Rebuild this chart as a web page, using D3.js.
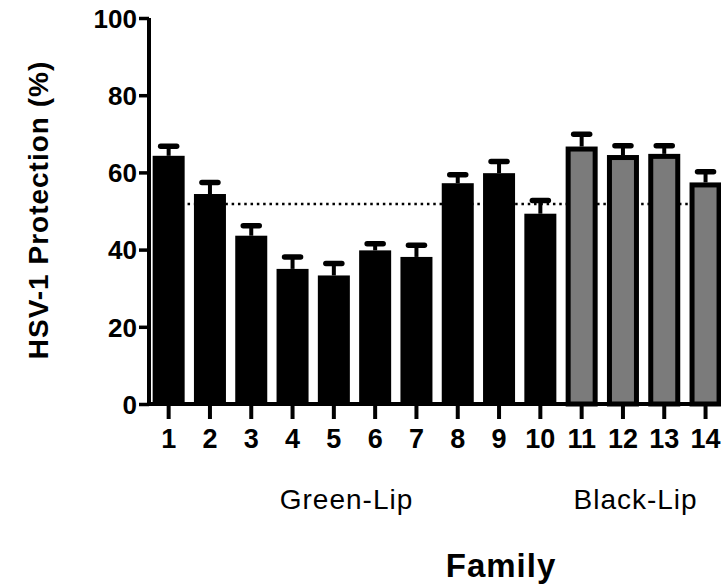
<!DOCTYPE html>
<html>
<head>
<meta charset="utf-8">
<script src="https://cdn.jsdelivr.net/npm/d3@7"></script>
<style>
  html, body { margin: 0; padding: 0; background: #fff; }
  svg { display: block; }
  text { font-family: "Liberation Sans", Arial, Helvetica, sans-serif; fill: #000; }
</style>
</head>
<body>
<svg id="chart" width="721" height="587"></svg>
<script>
// ---- data ----
const categories = ["1","2","3","4","5","6","7","8","9","10","11","12","13","14"];
const means = [64.3, 54.4, 43.6, 35.0, 33.3, 39.8, 38.1, 57.2, 59.8, 49.3, 66.7, 64.5, 64.8, 57.4];
const sems  = [2.5, 3.0, 2.6, 3.1, 3.1, 1.7, 3.0, 2.2, 3.0, 3.4, 3.2, 2.4, 2.1, 2.8];
const groupOf = ["Green-Lip","Green-Lip","Green-Lip","Green-Lip","Green-Lip","Green-Lip","Green-Lip","Green-Lip","Green-Lip","Green-Lip","Black-Lip","Black-Lip","Black-Lip","Black-Lip"];
const groupNames = ["Green-Lip", "Black-Lip"];
const yTicks = [0, 20, 40, 60, 80, 100];
const referenceLevel = 51.8;
const yTitle = "HSV-1 Protection (%)";
const xTitle = "Family";

// ---- layout ----
const svg = d3.select("#chart");
const x0 = 148, x1 = 726.2, yBase = 404, yTop = 18;

const x = d3.scaleBand().domain(categories).range([x0, x1])
  .paddingInner(0.225).paddingOuter(0.1125).align(0.5);
const y = d3.scaleLinear().domain([0, 100]).range([yBase, yTop]);
const fillScale = d3.scaleOrdinal().domain(groupNames).range(["#000000", "#7b7b7b"]);

const data = categories.map((c, i) => ({ c, m: means[i], s: sems[i], g: groupOf[i] }));

// reference dotted line (behind bars)
svg.append("line")
  .attr("x1", x(categories[0]) + x.bandwidth() / 2)
  .attr("x2", 721 + 10)
  .attr("y1", y(referenceLevel)).attr("y2", y(referenceLevel))
  .attr("stroke", "#000").attr("stroke-width", 2.5)
  .attr("stroke-dasharray", "2.5,3.8");

// error bars (upper only)
const eb = svg.append("g");
data.forEach(d => {
  const cx = x(d.c) + x.bandwidth() / 2;
  eb.append("line")
    .attr("x1", cx).attr("x2", cx)
    .attr("y1", y(d.m)).attr("y2", y(d.m + d.s))
    .attr("stroke", "#000").attr("stroke-width", 4);
  eb.append("line")
    .attr("x1", cx - 8).attr("x2", cx + 8)
    .attr("y1", y(d.m + d.s)).attr("y2", y(d.m + d.s))
    .attr("stroke", "#000").attr("stroke-width", 5.5).attr("stroke-linecap", "round");
});

// bars
const sw = 5;
svg.append("g").selectAll("rect").data(data).join("rect")
  .attr("x", d => d.g === "Black-Lip" ? x(d.c) + sw / 2 : x(d.c))
  .attr("y", d => d.g === "Black-Lip" ? y(d.m) + sw / 2 : y(d.m))
  .attr("width", d => d.g === "Black-Lip" ? x.bandwidth() - sw : x.bandwidth())
  .attr("height", d => d.g === "Black-Lip" ? yBase - y(d.m) - sw / 2 : yBase - y(d.m))
  .attr("fill", d => fillScale(d.g))
  .attr("stroke", d => d.g === "Black-Lip" ? "#000" : "none")
  .attr("stroke-width", sw);

// y axis
const yAxis = svg.append("g").attr("transform", `translate(${x0 + 1},0)`)
  .call(d3.axisLeft(y).tickValues(yTicks).tickSize(10).tickSizeOuter(0).tickPadding(2));
yAxis.select(".domain").attr("stroke-width", 4).attr("d", `M0,${yTop}V${yBase + 2}`);
yAxis.selectAll(".tick line").attr("stroke-width", 3.5);
yAxis.selectAll(".tick text")
  .style("font-size", "26px").style("font-weight", "bold")
  .attr("font-family", null).attr("dy", "0.36em");

// x axis
const xAxis = svg.append("g").attr("transform", `translate(0,${yBase})`)
  .call(d3.axisBottom(x).tickSize(15).tickSizeOuter(0));
xAxis.select(".domain").attr("stroke-width", 4).attr("d", `M${x0 - 1},0H${x1}`);
xAxis.selectAll(".tick line").attr("stroke-width", 4);
xAxis.selectAll(".tick text")
  .style("font-size", "27px").style("font-weight", "bold")
  .attr("font-family", null).attr("y", 44).attr("dy", null);

// group labels
groupNames.forEach(g => {
  const members = data.filter(d => d.g === g);
  const a = x(members[0].c), b = x(members[members.length - 1].c) + x.bandwidth();
  svg.append("text")
    .attr("x", (a + b) / 2 - 8).attr("y", 509)
    .attr("text-anchor", "middle")
    .style("font-size", "28px").style("letter-spacing", "1px")
    .text(g);
});

// axis titles
svg.append("text")
  .attr("x", 501).attr("y", 577)
  .attr("text-anchor", "middle")
  .style("font-size", "33px").style("font-weight", "bold").style("letter-spacing", "1px")
  .text(xTitle);

svg.append("text")
  .attr("transform", "translate(48,210) rotate(-90)")
  .attr("text-anchor", "middle")
  .style("font-size", "28px").style("font-weight", "bold").style("letter-spacing", "1px")
  .text(yTitle);
</script>
</body>
</html>
